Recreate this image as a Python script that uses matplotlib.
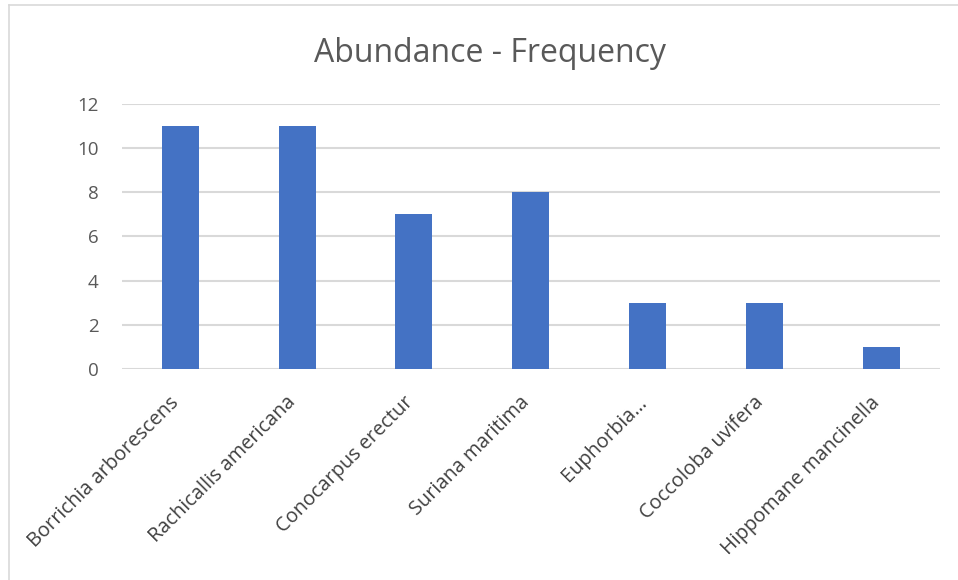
import matplotlib
matplotlib.use("Agg")
import matplotlib.pyplot as plt
from matplotlib.lines import Line2D
from matplotlib.transforms import ScaledTranslation

species = [
    "Borrichia arborescens",
    "Rachicallis americana",
    "Conocarpus erectur",
    "Suriana maritima",
    "Euphorbia…",
    "Coccoloba uvifera",
    "Hippomane mancinella",
]
counts = [11, 11, 7, 8, 3, 3, 1]
y_ticks = [0, 2, 4, 6, 8, 10, 12]

plt.rcParams["font.family"] = ["Open Sans", "DejaVu Sans"]

fig = plt.figure(figsize=(9.58, 5.80), dpi=100)
ax = fig.add_axes([0.1273, 0.3638, 0.8535, 0.4569])

x = range(len(species))
ax.bar(x, counts, width=0.317, color="#4472C4", zorder=3)

ax.set_xlim(-0.5, len(species) - 0.5)
ax.set_ylim(0, 12)
ax.set_yticks(y_ticks)
ax.set_yticklabels([str(v) for v in y_ticks])
ax.yaxis.grid(True, color="#D9D9D9", linewidth=1.5, zorder=0)
ax.set_axisbelow(True)
for s in ax.spines.values():
    s.set_visible(False)
ax.tick_params(axis="y", length=0, pad=17, labelsize=13.5, labelcolor="#595959")
ax.tick_params(axis="x", length=0, pad=22, labelsize=14.3, labelcolor="#404040")
ax.set_xticks(list(x))
ax.set_xticklabels(species, rotation=45, ha="right", va="center",
                   rotation_mode="anchor")
shift = ScaledTranslation(-4 / 100, 0, fig.dpi_scale_trans)
for lbl in ax.get_xticklabels():
    lbl.set_transform(lbl.get_transform() + shift)

fig.text(490 / 958, 0.908, "Abundance - Frequency", ha="center", va="center",
         fontsize=23, color="#595959")

# chart frame: top and left edges
fig.add_artist(Line2D([8.5 / 958, 1.0], [1 - 5 / 580, 1 - 5 / 580],
                      color="#D9D9D9", linewidth=1.2, transform=fig.transFigure))
fig.add_artist(Line2D([8.5 / 958, 8.5 / 958], [0, 1 - 5 / 580],
                      color="#D9D9D9", linewidth=1.2, transform=fig.transFigure))

fig.savefig("out.png", dpi=100, facecolor="white")
